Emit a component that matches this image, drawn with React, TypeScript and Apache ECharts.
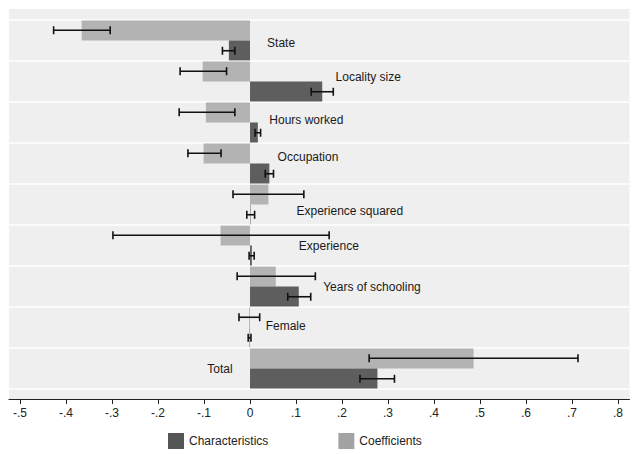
import React, { useEffect, useRef } from "react";
import * as echarts from "echarts";

// Categories, top to bottom
const categories = [
  "State",
  "Locality size",
  "Hours worked",
  "Occupation",
  "Experience squared",
  "Experience",
  "Years of schooling",
  "Female",
  "Total",
];

// Characteristics (explained part)
const charValues = [-0.046, 0.157, 0.017, 0.042, 0.001, 0.004, 0.106, -0.001, 0.277];
const charLow = [-0.060, 0.133, 0.011, 0.033, -0.007, -0.002, 0.082, -0.004, 0.239];
const charHigh = [-0.033, 0.181, 0.023, 0.051, 0.010, 0.009, 0.132, 0.002, 0.314];

// Coefficients (unexplained part)
const coefValues = [-0.366, -0.103, -0.096, -0.101, 0.040, -0.064, 0.056, -0.002, 0.486];
const coefLow = [-0.427, -0.152, -0.154, -0.135, -0.037, -0.298, -0.028, -0.024, 0.259];
const coefHigh = [-0.304, -0.051, -0.033, -0.063, 0.117, 0.172, 0.142, 0.021, 0.713];

// Where each category label sits (x value of its left edge)
const labelX = [0.037, 0.186, 0.042, 0.060, 0.101, 0.106, 0.159, 0.034, -0.093];

const tickValues = [-0.5, -0.4, -0.3, -0.2, -0.1, 0, 0.1, 0.2, 0.3, 0.4, 0.5, 0.6, 0.7, 0.8];

const FONT = "'Liberation Sans', Arial, Helvetica, sans-serif";
const DARK = "#5e5e5e";
const LIGHT = "#b3b3b3";

export default function App() {
  const ref = useRef<HTMLDivElement>(null);

  useEffect(() => {
    document.body.style.margin = "0";
    if (!ref.current) return;
    const chart = echarts.init(ref.current, undefined, { renderer: "svg" });

    const fmt = (v: number) => {
      const r = Math.round(v * 10) / 10;
      if (r === 0) return "0";
      const s = r.toFixed(1);
      return s.replace("0.", ".");
    };

    const errData: any[] = [];
    categories.forEach((_, i) => {
      errData.push([i, coefLow[i], coefHigh[i], -1]);
      errData.push([i, charLow[i], charHigh[i], 1]);
    });

    const labelDy = [0.07, -0.12, -0.07, -0.15, 0.17, 0, 0, -0.03, 0];
    const labelData = categories.map((c, i) => [i, labelX[i], labelDy[i]]);

    chart.setOption({
      animation: false,
      textStyle: { fontFamily: FONT },
      graphic: [
        {
          type: "rect",
          z: -10,
          shape: { x: 9, y: 9, width: 620.5, height: 390 },
          style: { fill: "#efefef" },
          silent: true,
        },
      ],
      grid: {
        left: 9,
        right: 10.5,
        top: 20,
        height: 369,
        show: false,
      },
      legend: {
        left: 168,
        top: 433,
        padding: 0,
        itemWidth: 16,
        itemHeight: 16,
        itemGap: 70,
        icon: "rect",
        textStyle: { fontSize: 12, color: "#222", fontFamily: FONT },
        data: [
          { name: "Characteristics", itemStyle: { color: "#555555" } },
          { name: "Coefficients", itemStyle: { color: "#a3a3a3" } },
        ],
      },
      xAxis: {
        type: "value",
        min: -0.524,
        max: 0.825,
        offset: 10,
        axisLine: { show: true, lineStyle: { color: "#222", width: 1 } },
        axisTick: {
          show: true,
          length: 5,
          lineStyle: { color: "#222" },
          customValues: tickValues,
        },
        axisLabel: {
          color: "#222",
          fontSize: 12,
          margin: 8,
          fontFamily: FONT,
          customValues: tickValues,
          formatter: (v: number) => fmt(v),
        },
        splitLine: { show: false },
      },
      yAxis: {
        type: "category",
        inverse: true,
        data: categories,
        axisLine: { show: false },
        axisTick: { show: false },
        axisLabel: { show: false },
        splitLine: { show: true, lineStyle: { color: "#ffffff", width: 1.5 } },
      },
      series: [
        {
          name: "Coefficients",
          type: "bar",
          data: coefValues,
          itemStyle: { color: LIGHT },
          barGap: "0%",
          barCategoryGap: "3%",
        },
        {
          name: "Characteristics",
          type: "bar",
          data: charValues,
          itemStyle: { color: DARK },
          barGap: "0%",
          barCategoryGap: "3%",
        },
        {
          type: "custom",
          name: "errors",
          data: errData,
          encode: { y: 0, x: [1, 2] },
          z: 5,
          silent: true,
          renderItem: (params: any, api: any) => {
            const i = api.value(0);
            const lo = api.value(1);
            const hi = api.value(2);
            const side = api.value(3);
            const band = api.size([0, 1])[1];
            const p1 = api.coord([lo, i]);
            const p2 = api.coord([hi, i]);
            const y = p1[1] + (side * band) / 4;
            const h = 4;
            const style = { stroke: "#111", lineWidth: 1.6 };
            return {
              type: "group",
              children: [
                { type: "line", shape: { x1: p1[0], y1: y, x2: p2[0], y2: y }, style },
                { type: "line", shape: { x1: p1[0], y1: y - h, x2: p1[0], y2: y + h }, style },
                { type: "line", shape: { x1: p2[0], y1: y - h, x2: p2[0], y2: y + h }, style },
              ],
            };
          },
        },
        {
          type: "custom",
          name: "labels",
          data: labelData,
          encode: { y: 0, x: 1 },
          z: 6,
          silent: true,
          renderItem: (params: any, api: any) => {
            const i = api.value(0);
            const x = api.value(1);
            const dy = api.value(2);
            const band = api.size([0, 1])[1];
            const p = api.coord([x, i]);
            return {
              type: "text",
              x: p[0],
              y: p[1] + dy * band,
              style: {
                text: categories[i],
                fill: "#1a1a1a",
                font: `12px ${FONT}`,
                textAlign: "left",
                textVerticalAlign: "middle",
              },
            };
          },
        },
      ],
    });

    return () => {
      chart.dispose();
    };
  }, []);

  return <div ref={ref} style={{ width: 640, height: 454 }} />;
}
